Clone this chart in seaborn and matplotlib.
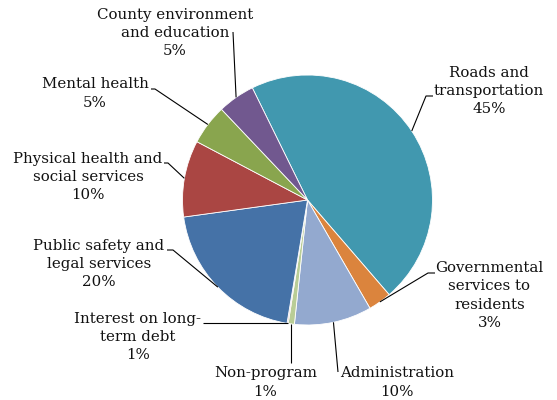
import numpy as np
import matplotlib
matplotlib.use("Agg")
import matplotlib.pyplot as plt
import seaborn as sns

# ---- data (clockwise from the top-left boundary) ----
categories = ["Roads and\ntransportation", "Governmental\nservices to\nresidents",
              "Administration", "Non-program", "Interest on long-\nterm debt",
              "Public safety and\nlegal services", "Physical health and\nsocial services",
              "Mental health", "County environment\nand education"]
values = [45.95, 3.0, 10.0, 0.8, 0.15, 20.2, 9.9, 5.2, 4.8]
pct_labels = ["45%", "3%", "10%", "1%", "1%", "20%", "10%", "5%", "5%"]
colors = ["#4198AF", "#DB843D", "#93A9CF", "#B9CD96", "#D19392",
          "#4572A7", "#AA4643", "#89A54E", "#71588F"]

sns.set_theme(style="white")
plt.rcParams['font.family'] = ['DejaVu Serif']

W, H = 557, 400
fig = plt.figure(figsize=(W / 100, H / 100), dpi=100)
ax = fig.add_axes([0, 0, 1, 1])

cx, cy, R = 307.5, 200.0, 125.0
Y = lambda y: H - y

wedges, _ = ax.pie(values, colors=colors, startangle=116.2, counterclock=False,
                   center=(cx, Y(cy)), radius=R, frame=True,
                   wedgeprops=dict(edgecolor="white", linewidth=0.6))
ax.set_xlim(0, W)
ax.set_ylim(0, H)
ax.set_aspect("equal")
ax.axis("off")

# label layout: (text center x, text block center y in px, leader elbow points in px)
layout = [
    (489, 91, [(426, 96), (433, 96)]),
    (489.5, 295.5, [(428, 273), (435, 273)]),
    (397, 382.5, [(338, 372)]),
    (265.5, 382.5, None),
    (138, 337, "h"),
    (99, 264, [(173, 250), (167, 250)]),
    (88, 177, [(168, 163), (164, 163)]),
    (95, 93.5, [(155, 89), (151, 89)]),
    (175, 33, [(233, 32)]),
]

for w, cat, pct, (tx, ty, pts) in zip(wedges, categories, pct_labels, layout):
    mid = np.deg2rad((w.theta1 + w.theta2) / 2)
    ex, ey = cx + R * np.cos(mid), Y(cy) + R * np.sin(mid)
    if pts is None:
        xs, ys = [ex, ex], [ey, Y(363)]
    elif pts == "h":
        xs, ys = [ex, 203], [ey, ey]
    else:
        xs = [ex] + [p[0] for p in pts]
        ys = [ey] + [Y(p[1]) for p in pts]
    ax.plot(xs, ys, color="black", linewidth=0.8, solid_capstyle="butt")
    ax.text(tx, Y(ty), cat + "\n" + pct, ha="center", va="center",
            fontsize=10.8, linespacing=1.4, color="#111111",
            multialignment="center")

fig.savefig("out.png", dpi=100)
